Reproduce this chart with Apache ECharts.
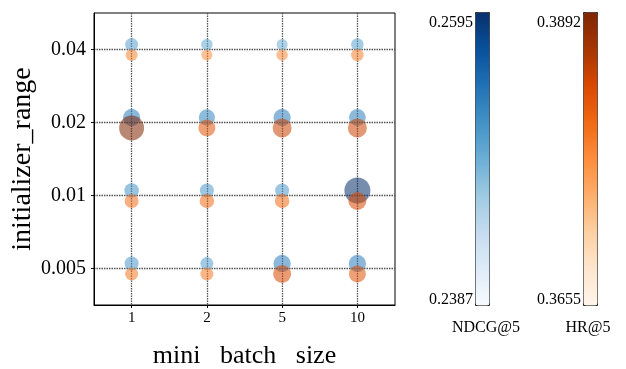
<!DOCTYPE html>
<html>
<head>
<meta charset="utf-8">
<script src="https://cdn.jsdelivr.net/npm/echarts@6/dist/echarts.min.js"></script>
<style>html,body{margin:0;padding:0;background:#fff;}#c{width:626px;height:369px;}</style>
</head>
<body>
<div id="c"></div>
<script>
// ---- data ----
const batchSizes = ['1', '2', '5', '10'];
const initRanges = ['0.005', '0.01', '0.02', '0.04'];

// NDCG@5 per initializer_range row, across batch sizes 1,2,5,10
const ndcg_0005 = [0.2429, 0.2415, 0.2474, 0.2474];
const ndcg_001  = [0.2436, 0.2429, 0.2429, 0.2595];
const ndcg_002  = [0.2474, 0.2460, 0.2474, 0.2467];
const ndcg_004  = [0.2415, 0.2394, 0.2387, 0.2408];

// HR@5 per initializer_range row
const hr_0005 = [0.3689, 0.3689, 0.3773, 0.3756];
const hr_001  = [0.3706, 0.3714, 0.3714, 0.3773];
const hr_002  = [0.3892, 0.3756, 0.3790, 0.3790];
const hr_004  = [0.3672, 0.3655, 0.3663, 0.3680];

const ndcgRange = [0.2387, 0.2595];
const hrRange = [0.3655, 0.3892];
const ndcgLabel = 'NDCG@5';
const hrLabel = 'HR@5';

// ---- build ----
function build(rows) {
  const out = [];
  rows.forEach((row, yi) => row.forEach((v, xi) => out.push([xi, yi, v])));
  return out;
}
const ndcgData = build([ndcg_0005, ndcg_001, ndcg_002, ndcg_004]);
const hrData = build([hr_0005, hr_001, hr_002, hr_004]);

const FONT = 'Liberation Serif';
const blues = ['#f7fbff','#deebf7','#c6dbef','#9ecae1','#6baed6','#4292c6','#2171b5','#08519c','#08306b'];
const oranges = ['#fff5eb','#fee6ce','#fdd0a2','#fdae6b','#fd8d3c','#f16913','#d94801','#a63603','#7f2704'];

const chart = echarts.init(document.getElementById('c'), null, {renderer: 'canvas'});
const axisCommon = {
  type: 'category',
  boundaryGap: true,
  axisLine: {show: true, lineStyle: {color: '#000', width: 1}},
  axisTick: {show: true, alignWithLabel: true, length: 3, lineStyle: {color: '#000'}},
  splitLine: {show: true, alignWithLabel: true, lineStyle: {color: '#555', type: [1.5, 1], width: 1.3}},
  nameLocation: 'middle'
};
chart.setOption({
  animation: false,
  backgroundColor: '#fff',
  grid: {left: 94, top: 13, width: 301, height: 292, show: true, borderColor: '#000', borderWidth: 1, outerBoundsMode: 'none', containLabel: false},
  xAxis: Object.assign({}, axisCommon, {
    data: batchSizes,
    name: 'mini   batch   size',
    nameGap: 38,
    nameTextStyle: {fontFamily: FONT, fontSize: 26, color: '#000'},
    axisLabel: {fontFamily: FONT, fontSize: 15, color: '#000', margin: 6}
  }),
  yAxis: Object.assign({}, axisCommon, {
    data: initRanges,
    name: 'initializer_range',
    nameGap: 57,
    nameTextStyle: {fontFamily: FONT, fontSize: 28, color: '#000'},
    axisLabel: {fontFamily: FONT, fontSize: 20, color: '#000', margin: 8}
  }),
  visualMap: [
    {
      type: 'continuous', seriesIndex: 0, dimension: 2,
      min: ndcgRange[0], max: ndcgRange[1],
      show: true, calculable: false, text: null, showLabel: false,
      orient: 'vertical', left: 475, top: 12, itemWidth: 14, itemHeight: 293,
      padding: 0, borderColor: '#222', borderWidth: 1,
      inRange: {color: blues.slice(4)},
      controller: {inRange: {color: blues}}
    },
    {
      type: 'continuous', seriesIndex: 1, dimension: 2,
      min: hrRange[0], max: hrRange[1],
      show: true, calculable: false, text: null, showLabel: false,
      orient: 'vertical', left: 583, top: 12, itemWidth: 14, itemHeight: 293,
      padding: 0, borderColor: '#222', borderWidth: 1,
      inRange: {color: oranges.slice(4)},
      controller: {inRange: {color: oranges}}
    },
    {type: 'continuous', seriesIndex: 0, dimension: 2, min: ndcgRange[0], max: ndcgRange[1], show: false, inRange: {symbolSize: [11, 26]}},
    {type: 'continuous', seriesIndex: 1, dimension: 2, min: hrRange[0], max: hrRange[1], show: false, inRange: {symbolSize: [11, 25]}}
  ],
  series: [
    {type: 'scatter', name: ndcgLabel, data: ndcgData, symbol: 'circle', symbolOffset: [0, -5], itemStyle: {opacity: 0.55}, z: 3},
    {type: 'scatter', name: hrLabel, data: hrData, symbol: 'circle', symbolOffset: [0, 5.5], itemStyle: {opacity: 0.55}, z: 4}
  ],
  graphic: [
    {type: 'text', x: 473, y: 15, style: {text: ndcgRange[1].toFixed(4), font: '16px "Liberation Serif"', fill: '#000', align: 'right', verticalAlign: 'top'}},
    {type: 'text', x: 473, y: 308, style: {text: ndcgRange[0].toFixed(4), font: '16px "Liberation Serif"', fill: '#000', align: 'right', verticalAlign: 'bottom'}},
    {type: 'text', x: 486, y: 328, style: {text: ndcgLabel, font: '16px "Liberation Serif"', fill: '#000', align: 'center', verticalAlign: 'middle'}},
    {type: 'text', x: 581, y: 15, style: {text: hrRange[1].toFixed(4), font: '16px "Liberation Serif"', fill: '#000', align: 'right', verticalAlign: 'top'}},
    {type: 'text', x: 581, y: 308, style: {text: hrRange[0].toFixed(4), font: '16px "Liberation Serif"', fill: '#000', align: 'right', verticalAlign: 'bottom'}},
    {type: 'text', x: 588, y: 328, style: {text: hrLabel, font: '16px "Liberation Serif"', fill: '#000', align: 'center', verticalAlign: 'middle'}}
  ]
});
</script>
</body>
</html>
